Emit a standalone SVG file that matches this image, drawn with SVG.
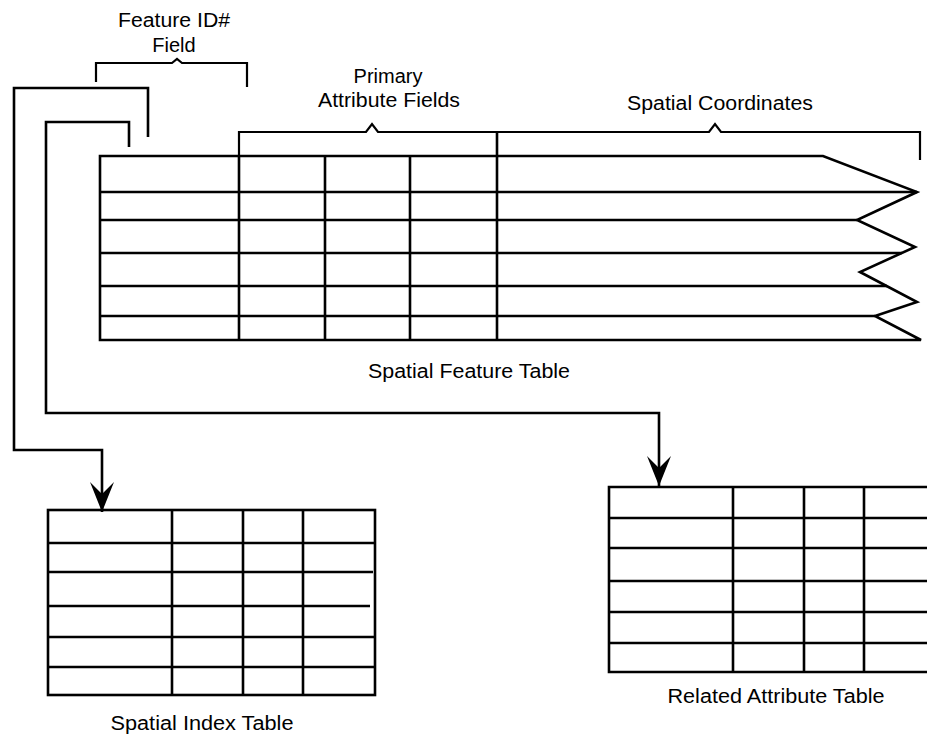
<svg xmlns="http://www.w3.org/2000/svg" width="927" height="739" viewBox="0 0 927 739">
<style>
.ln{fill:none;stroke:#000;stroke-width:2.6;stroke-linejoin:miter;stroke-linecap:butt}
.br{fill:none;stroke:#000;stroke-width:2.2}
.t{font-family:"Liberation Sans",Arial,sans-serif;font-size:20px;fill:#000;text-anchor:middle}
.ah{fill:#000;stroke:none}
</style>
<defs>
<marker id="arr" viewBox="0 0 32 24" refX="30" refY="12" markerWidth="32" markerHeight="24" markerUnits="userSpaceOnUse" orient="auto">
<path class="ah" d="M0,0 L12,12 L0,24 L30,12 Z"/>
</marker>
</defs>
<rect width="927" height="739" fill="#fff"/>

<g id="spatial-feature-table">
<path class="ln" d="M100,156 H823 L917,192 L857,220 L915,247 L860,272 L917,302 L875,316 L921,340 H100 Z"/>
<path class="ln" d="M100,192 H917 M100,220 H857 M100,253 H902 M100,286 H887 M100,316 H875"/>
<path class="ln" d="M239,156 V340 M325,156 V340 M410,156 V340 M497,132 V340"/>
<text class="t" x="469" y="378" textLength="202" lengthAdjust="spacingAndGlyphs">Spatial Feature Table</text>
</g>

<g id="feature-id-field">
<path class="br" d="M96,82 V63 H172 L177,59 L182,63 H247 V87"/>
<text class="t" x="174" y="27" textLength="112" lengthAdjust="spacingAndGlyphs">Feature ID#</text>
<text class="t" x="174" y="52">Field</text>
</g>

<g id="primary-attribute-fields">
<path class="br" d="M239,156 V132 H366 L372,124 L378,132 H497"/>
<text class="t" x="388" y="83">Primary</text>
<text class="t" x="389" y="107" textLength="142" lengthAdjust="spacingAndGlyphs">Attribute Fields</text>
</g>

<g id="spatial-coordinates">
<path class="br" d="M497,132 H709 L715,124 L721,132 H920 V160"/>
<text class="t" x="720" y="110" textLength="186" lengthAdjust="spacingAndGlyphs">Spatial Coordinates</text>
</g>

<g id="spatial-index-table">
<rect class="ln" x="48" y="510" width="327" height="185"/>
<path class="ln" d="M48,543 H375 M48,572 H373 M48,606 H370 M48,637 H375 M48,667 H375"/>
<path class="ln" d="M172,510 V695 M243,510 V695 M303,510 V695"/>
<text class="t" x="202" y="730" textLength="183" lengthAdjust="spacingAndGlyphs">Spatial Index Table</text>
</g>

<g id="related-attribute-table">
<path class="ln" d="M927,487 H609 V672 H927"/>
<path class="ln" d="M609,518 H927 M609,548 H927 M609,581 H927 M609,612 H927 M609,643 H927"/>
<path class="ln" d="M733,487 V672 M804,487 V672 M864,487 V672"/>
<text class="t" x="776" y="703" textLength="217" lengthAdjust="spacingAndGlyphs">Related Attribute Table</text>
</g>

<g id="connectors">
<path class="ln" d="M148,137 V88 H14 V450 H102 V512" marker-end="url(#arr)"/>
<path class="ln" d="M129,147 V122 H46 V413 H659 V486" marker-end="url(#arr)"/>
</g>
</svg>
